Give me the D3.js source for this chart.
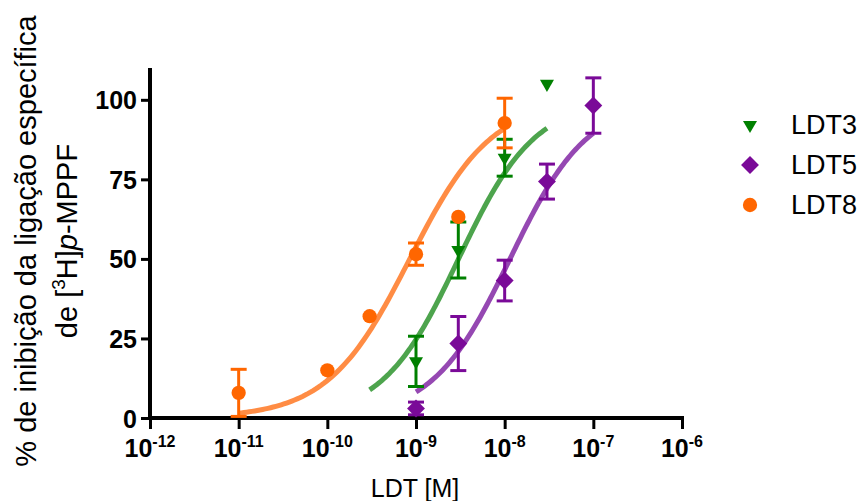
<!DOCTYPE html>
<html>
<head>
<meta charset="utf-8">
<script src="https://d3js.org/d3.v7.min.js"></script>
<style>
    body { margin: 0; background: #fff; }
    svg { display: block; }
    text { font-family: "Liberation Sans", Arial, sans-serif; fill: #000; }
    .tick text { font-weight: bold; font-size: 25px; }
</style>
</head>
<body>
<script>
// series names and colours
var seriesNames = ["LDT3", "LDT5", "LDT8"];
var markerColors = ["#008000", "#7a0a98", "#ff6600"];
var curveColors = ["#3a9a3a", "#8a34aa", "#ff8030"];

// measured points: concentration [M], mean % inhibition, SEM
var ldt3Conc = [1e-9, 3e-9, 1e-8, 3e-8];
var ldt3Mean = [17.8, 52.8, 81.8, 105];
var ldt3Sem  = [7.9, 8.8, 5.8, 0];

var ldt5Conc = [1e-9, 3e-9, 1e-8, 3e-8, 1e-7];
var ldt5Mean = [3, 23.4, 43.2, 74.3, 98.2];
var ldt5Sem  = [2, 8.5, 6.4, 5.5, 8.7];

var ldt8Conc = [1e-11, 1e-10, 3e-10, 1e-9, 3e-9, 1e-8];
var ldt8Mean = [7.9, 15, 32, 51.5, 63.2, 92.7];
var ldt8Sem  = [7.4, 0, 0, 3.5, 0, 7.8];

// sigmoidal fit (bottom 0, top 100): logEC50, Hill slope, fitted x range
var fitLogEC50 = [-8.52, -7.94, -9.07];
var fitHill    = [1.01, 0.99, 0.94];
var fitFrom    = [3e-10, 1e-9, 1e-11];
var fitTo      = [3e-8, 1e-7, 1e-8];

// axes
var xDecades = [1e-12, 1e-11, 1e-10, 1e-9, 1e-8, 1e-7, 1e-6];
var xExponents = ["-12", "-11", "-10", "-9", "-8", "-7", "-6"];
var yTicks = [0, 25, 50, 75, 100];

var W = 862, H = 501;
var svg = d3.select("body").append("svg").attr("width", W).attr("height", H);

var x = d3.scaleLog().domain([1e-12, 1e-6]).range([150, 682]);
var y = d3.scaleLinear().domain([0, 110]).range([418, 68]);

// minor ticks 2..9 in each decade
var minor = [];
for (var d = 0; d < xDecades.length - 1; d++) {
    for (var m = 2; m <= 9; m++) minor.push(xDecades[d] * m);
}

var gx = svg.append("g").attr("transform", "translate(0," + y(0) + ")");
gx.call(d3.axisBottom(x).tickValues(minor).tickSize(6).tickFormat(""));
gx.call(d3.axisBottom(x).tickValues(xDecades).tickSize(11).tickFormat(""));
gx.selectAll("line").attr("stroke", "#000").attr("stroke-width", 3);
gx.select(".domain").remove();

var gy = svg.append("g").attr("transform", "translate(" + x(1e-12) + ",0)");
gy.call(d3.axisLeft(y).tickValues(yTicks).tickSize(9).tickPadding(4));
gy.selectAll("line").attr("stroke", "#000").attr("stroke-width", 3);
gy.select(".domain").remove();
gy.selectAll(".tick text").attr("dy", "0.36em");

// axis lines
svg.append("line").attr("x1", x(1e-12)).attr("x2", x(1e-6) + 2)
    .attr("y1", y(0)).attr("y2", y(0)).attr("stroke", "#000").attr("stroke-width", 4);
svg.append("line").attr("x1", x(1e-12)).attr("x2", x(1e-12))
    .attr("y1", y(110)).attr("y2", y(0) + 2).attr("stroke", "#000").attr("stroke-width", 4);

// x tick labels with superscripts
var xl = svg.append("g").selectAll("text").data(xDecades).enter().append("text")
    .attr("x", function (d) { return x(d); })
    .attr("y", 457)
    .attr("text-anchor", "middle")
    .style("font-weight", "bold").style("font-size", "25px");
xl.append("tspan").text("10");
xl.append("tspan").attr("dy", -10).style("font-size", "16px")
    .text(function (d, i) { return xExponents[i]; });

// axis titles
svg.append("text").attr("x", 415).attr("y", 497).attr("text-anchor", "middle")
    .style("font-size", "25px").text("LDT [M]");

var yt = svg.append("g").attr("transform", "translate(0,241) rotate(-90)");
yt.append("text").attr("x", 0).attr("y", 36).attr("text-anchor", "middle")
    .style("font-size", "29px").text("% de inibição da ligação específica");
var t2 = yt.append("text").attr("x", 0).attr("y", 77).attr("text-anchor", "middle")
    .style("font-size", "29px");
t2.append("tspan").text("de [");
t2.append("tspan").attr("dy", -12).style("font-size", "19px").text("3");
t2.append("tspan").attr("dy", 12).text("H]");
t2.append("tspan").style("font-style", "italic").text("p");
t2.append("tspan").text("-MPPF");

// curves
var line = d3.line().x(function (d) { return x(d[0]); }).y(function (d) { return y(d[1]); });
seriesNames.forEach(function (name, i) {
    var pts = [];
    var a = Math.log10(fitFrom[i]), b = Math.log10(fitTo[i]);
    for (var k = 0; k <= 100; k++) {
        var lx = a + (b - a) * k / 100;
        pts.push([Math.pow(10, lx), 100 / (1 + Math.pow(10, (fitLogEC50[i] - lx) * fitHill[i]))]);
    }
    svg.append("path").attr("d", line(pts)).attr("fill", "none")
        .attr("stroke", curveColors[i]).attr("stroke-width", 5).attr("opacity", 0.9);
});

// points and error bars
var symbols = [
    d3.symbol().type(d3.symbolTriangle).size(85),
    d3.symbol().type(d3.symbolSquare).size(160),
    d3.symbol().type(d3.symbolCircle).size(160)
];
var rotations = [180, 45, 0];
var concs = [ldt3Conc, ldt5Conc, ldt8Conc];
var means = [ldt3Mean, ldt5Mean, ldt8Mean];
var sems = [ldt3Sem, ldt5Sem, ldt8Sem];

seriesNames.forEach(function (name, i) {
    var g = svg.append("g");
    var rows = concs[i].map(function (c, j) { return { c: c, m: means[i][j], s: sems[i][j] }; });
    var eb = g.selectAll(".eb").data(rows.filter(function (r) { return r.s > 0; })).enter().append("g")
        .attr("stroke", markerColors[i]).attr("stroke-width", 3);
    eb.append("line").attr("x1", function (r) { return x(r.c); }).attr("x2", function (r) { return x(r.c); })
        .attr("y1", function (r) { return y(r.m - r.s); }).attr("y2", function (r) { return y(r.m + r.s); });
    [-1, 1].forEach(function (sg) {
        eb.append("line").attr("x1", function (r) { return x(r.c) - 8; }).attr("x2", function (r) { return x(r.c) + 8; })
            .attr("y1", function (r) { return y(r.m + sg * r.s); }).attr("y2", function (r) { return y(r.m + sg * r.s); });
    });
    g.selectAll(".pt").data(rows).enter().append("path")
        .attr("d", symbols[i])
        .attr("fill", markerColors[i])
        .attr("transform", function (r) {
            return "translate(" + x(r.c) + "," + y(r.m) + ") rotate(" + rotations[i] + ")";
        });
});

// legend
var lg = svg.append("g");
seriesNames.forEach(function (name, i) {
    var cy = 125 + i * 40;
    lg.append("path").attr("d", symbols[i]).attr("fill", markerColors[i])
        .attr("transform", "translate(750," + cy + ") rotate(" + rotations[i] + ")");
    lg.append("text").attr("x", 791).attr("y", cy + 9).style("font-size", "27px").text(name);
});
</script>
</body>
</html>
